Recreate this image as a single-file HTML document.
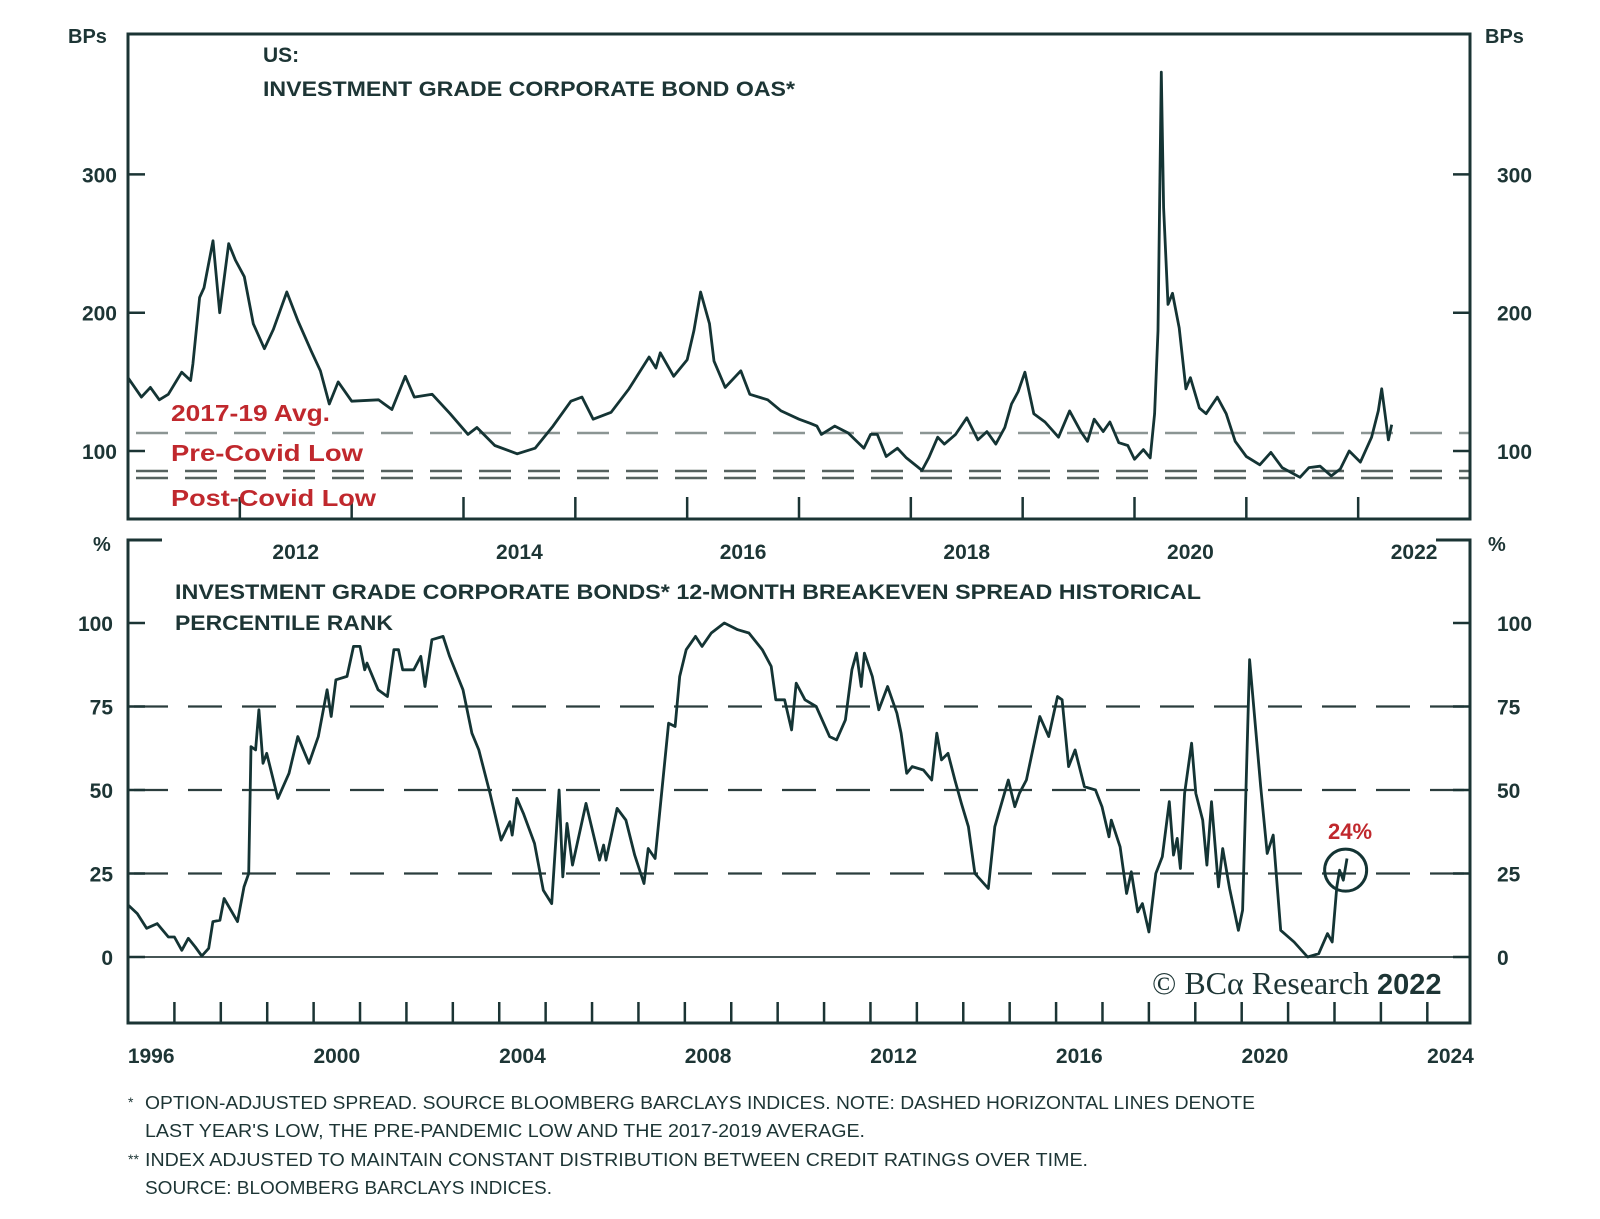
<!DOCTYPE html>
<html><head><meta charset="utf-8"><style>
html,body{margin:0;padding:0;background:#fff;}
svg{display:block;}
text{font-family:"Liberation Sans",sans-serif;fill:#1d3535;}
</style></head><body>
<svg id="chart" width="1600" height="1219" viewBox="0 0 1600 1219" xmlns="http://www.w3.org/2000/svg">
<g id="topPanel"></g>
<g id="botPanel"></g>
<g id="txt">
<text x="263" y="62" font-size="21" font-weight="bold">US:</text>
<text x="263" y="96" font-size="21" font-weight="bold" textLength="532" lengthAdjust="spacingAndGlyphs">INVESTMENT GRADE CORPORATE BOND OAS*</text>
<text x="175" y="599" font-size="21" font-weight="bold" textLength="1026" lengthAdjust="spacingAndGlyphs">INVESTMENT GRADE CORPORATE BONDS* 12-MONTH BREAKEVEN SPREAD HISTORICAL</text>
<text x="175" y="630" font-size="21" font-weight="bold" textLength="218" lengthAdjust="spacingAndGlyphs">PERCENTILE RANK</text>
<text x="171" y="421" font-size="23" font-weight="bold" style="fill:#c0282d" textLength="159" lengthAdjust="spacingAndGlyphs">2017-19 Avg.</text>
<text x="171" y="461" font-size="23" font-weight="bold" style="fill:#c0282d" textLength="192" lengthAdjust="spacingAndGlyphs">Pre-Covid Low</text>
<text x="171" y="506" font-size="23" font-weight="bold" style="fill:#c0282d" textLength="205" lengthAdjust="spacingAndGlyphs">Post-Covid Low</text>
<text x="1350" y="839" font-size="22" font-weight="bold" text-anchor="middle" style="fill:#c0282d">24%</text>
<text x="1152" y="994" font-size="32" style="font-family:'Liberation Serif',serif">© BCα Research <tspan font-family="Liberation Sans" font-weight="bold" font-size="29">2022</tspan></text>
<g font-size="18">
<text x="128" y="1107" font-size="14">*</text>
<text x="145" y="1109" textLength="1110" lengthAdjust="spacingAndGlyphs">OPTION-ADJUSTED SPREAD. SOURCE BLOOMBERG BARCLAYS INDICES. NOTE: DASHED HORIZONTAL LINES DENOTE</text>
<text x="145" y="1137" textLength="720" lengthAdjust="spacingAndGlyphs">LAST YEAR'S LOW, THE PRE-PANDEMIC LOW AND THE 2017-2019 AVERAGE.</text>
<text x="128" y="1164" font-size="14">**</text>
<text x="145" y="1166" textLength="943" lengthAdjust="spacingAndGlyphs">INDEX ADJUSTED TO MAINTAIN CONSTANT DISTRIBUTION BETWEEN CREDIT RATINGS OVER TIME.</text>
<text x="145" y="1194" textLength="407" lengthAdjust="spacingAndGlyphs">SOURCE: BLOOMBERG BARCLAYS INDICES.</text>
</g>
</g>
</svg>
<script>
// ---- Top panel data (year, bps) ----
const oasYears = [2011.0,2011.12,2011.2,2011.28,2011.36,2011.48,2011.56,2011.58,2011.64,2011.68,2011.76,2011.82,2011.9,2011.96,2012.04,2012.12,2012.22,2012.3,2012.42,2012.52,2012.64,2012.72,2012.8,2012.88,2013.0,2013.24,2013.36,2013.48,2013.56,2013.72,2013.88,2014.04,2014.12,2014.28,2014.48,2014.64,2014.8,2014.96,2015.06,2015.16,2015.32,2015.48,2015.66,2015.72,2015.76,2015.88,2016.0,2016.06,2016.12,2016.2,2016.24,2016.34,2016.48,2016.56,2016.72,2016.84,2017.0,2017.1,2017.16,2017.2,2017.32,2017.44,2017.58,2017.64,2017.7,2017.78,2017.88,2017.96,2018.1,2018.16,2018.24,2018.3,2018.4,2018.5,2018.6,2018.68,2018.76,2018.84,2018.9,2018.96,2019.02,2019.1,2019.2,2019.32,2019.42,2019.52,2019.58,2019.64,2019.72,2019.78,2019.86,2019.94,2020.0,2020.08,2020.14,2020.18,2020.21,2020.24,2020.26,2020.3,2020.34,2020.4,2020.46,2020.5,2020.58,2020.64,2020.74,2020.82,2020.9,2021.0,2021.12,2021.22,2021.32,2021.48,2021.56,2021.66,2021.76,2021.84,2021.92,2022.02,2022.12,2022.18,2022.21,2022.24,2022.27,2022.3];
const oasValues = [153,139,146,137,141,157,151,163,211,218,252,200,250,238,226,192,174,188,215,194,172,158,134,150,136,137,130,154,139,141,127,112,117,104,98,102,118,136,139,123,128,145,168,160,171,154,166,187,215,192,165,146,158,141,137,129,123,120,118,112,118,113,102,112,112,96,102,95,86,95,110,105,112,124,108,114,105,117,134,143,157,127,121,110,129,114,107,123,114,121,106,104,94,101,95,127,187,374,276,206,214,189,145,153,131,127,139,127,107,96,90,99,88,81,88,89,82,87,100,92,110,129,145,127,108,119];
const refNames = ["2017-19 avg","pre-covid low","post-covid low"];
const refValues = [113,85.5,80.5];
const topYTicks = [100,200,300];
const topXLabels = [2012,2014,2016,2018,2020,2022];
// ---- Bottom panel data (year, percentile) ----
const pctYears = [1996.0,1996.2,1996.4,1996.63,1996.87,1997.0,1997.16,1997.3,1997.45,1997.59,1997.74,1997.83,1997.98,1998.07,1998.36,1998.5,1998.6,1998.65,1998.75,1998.82,1998.91,1998.99,1999.23,1999.47,1999.66,1999.9,2000.1,2000.29,2000.38,2000.48,2000.72,2000.86,2001.0,2001.1,2001.15,2001.39,2001.59,2001.73,2001.83,2001.92,2002.16,2002.31,2002.4,2002.55,2002.79,2002.93,2003.22,2003.41,2003.56,2003.8,2004.04,2004.23,2004.28,2004.38,2004.52,2004.76,2004.95,2005.13,2005.29,2005.37,2005.46,2005.58,2005.87,2006.16,2006.25,2006.3,2006.54,2006.73,2006.92,2007.12,2007.21,2007.36,2007.5,2007.65,2007.79,2007.89,2008.03,2008.23,2008.37,2008.57,2008.85,2009.14,2009.38,2009.67,2009.86,2009.96,2010.15,2010.3,2010.4,2010.59,2010.83,2011.12,2011.27,2011.46,2011.6,2011.7,2011.8,2011.87,2012.04,2012.18,2012.37,2012.57,2012.66,2012.78,2012.9,2013.14,2013.32,2013.43,2013.53,2013.67,2013.82,2013.96,2014.11,2014.25,2014.54,2014.68,2014.97,2015.11,2015.21,2015.36,2015.65,2015.84,2016.03,2016.13,2016.27,2016.41,2016.61,2016.85,2016.99,2017.14,2017.19,2017.38,2017.52,2017.62,2017.76,2017.86,2018.0,2018.15,2018.29,2018.44,2018.53,2018.61,2018.68,2018.77,2018.92,2019.01,2019.16,2019.25,2019.35,2019.5,2019.59,2019.74,2019.93,2020.02,2020.17,2020.41,2020.55,2020.68,2020.84,2021.13,2021.42,2021.66,2021.85,2021.95,2022.05,2022.11,2022.19,2022.27];
const pctValues = [15.6,13,8.6,10,6,6,2,5.6,3,0.3,2.6,10.6,11,17.5,10.6,21,25,63,62,74,58,61,47.5,55,66,58,66,80,72,83,84,93,93,86,88,80,78,92,92,86,86,90,81,95,96,90,80,67,62,49,35,40.5,36.5,47.5,43,34,20,16,50,24,40,27.5,46,29,33.5,29,44.5,41,30.5,22,32.5,29.5,49,70,69,84,92,96,93,97,100,98,97,92,87,77,77,68,82,77,75,66,65,71,86,91,81,91,84,74,81,73,67,55,57,56,53,67,59,61,53,46,39,25,20.5,39,53,45,49,53,72,66,78,77,57,62,51,50,45,36,41,33,19,25.5,13.5,16,7.5,25,30,46.5,30.5,35.5,26.5,49,64,49,41,27.5,46.5,21,32.5,20.5,8,14,89,51,31,36.5,8,4.5,0,1,7,4.5,21,26,23,29.5];
const botYTicks = [0,25,50,75,100];
const botDashed = [25,50,75];
const botXLabels = [1996,2000,2004,2008,2012,2016,2020,2024];

const NS="http://www.w3.org/2000/svg";
const INK="#1b3434";
function mk(parent,tag,attrs){const e=document.createElementNS(NS,tag);for(const k in attrs)e.setAttribute(k,attrs[k]);parent.appendChild(e);return e;}

// top axes
const T={l:128,r:1470,t:34,b:519,x0:2011,x1:2023};
const tx=t=>T.l+(t-T.x0)*(T.r-T.l)/(T.x1-T.x0);
const ty=v=>451-(v-100)*1.383;
const topG=document.getElementById('topPanel');
refValues.forEach((v,i)=>{
  const ln=mk(topG,'line',{x1:T.l,x2:T.r,y1:ty(v),y2:ty(v),stroke:i===0?'#8b9593':'#56625f','stroke-width':2.5,'stroke-dasharray':'32 17','stroke-dashoffset':'-8'});
  
  
});
for(let y=2012;y<=2022;y++){
  const tk=mk(topG,'line',{x1:tx(y),x2:tx(y),y1:T.b,y2:T.b-22,stroke:INK,'stroke-width':2.5});
  
  
}
topYTicks.forEach(v=>{
  [[T.l,T.l+17],[T.r-17,T.r]].forEach(p=>{const tk=mk(topG,'line',{x1:p[0],x2:p[1],y1:ty(v),y2:ty(v),stroke:INK,'stroke-width':2.5});
  
  });
  const a=mk(topG,'text',{x:117,y:ty(v)+8,'text-anchor':'end','font-size':21,'font-weight':'bold'});a.textContent=v;
  
  
  const b=mk(topG,'text',{x:1497,y:ty(v)+8,'font-size':21,'font-weight':'bold'});b.textContent=v;
  
  
});
topXLabels.forEach(y=>{const e=mk(topG,'text',{x:tx(y+0.5),y:559,'text-anchor':'middle','font-size':21,'font-weight':'bold'});e.textContent=y;
  
  });
let d='';oasYears.forEach((t,i)=>{d+=(i?'L':'M')+tx(t).toFixed(1)+' '+ty(oasValues[i]).toFixed(1);});
const l1=mk(topG,'path',{d:d,fill:'none',stroke:'#143434','stroke-width':2.8,'stroke-linejoin':'round'});


const f1=mk(topG,'rect',{x:T.l,y:T.t,width:T.r-T.l,height:T.b-T.t,fill:'none',stroke:INK,'stroke-width':3});


const u1=mk(topG,'text',{x:68,y:43,'font-size':20,'font-weight':'bold'});u1.textContent='BPs';


const u2=mk(topG,'text',{x:1485,y:43,'font-size':20,'font-weight':'bold'});u2.textContent='BPs';



// bottom axes
const B={l:128,r:1470,t:540,b:1023,x0:1996,x1:2024.92};
const bx=t=>B.l+(t-B.x0)*(B.r-B.l)/(B.x1-B.x0);
const by=v=>957-v*3.34;
const botG=document.getElementById('botPanel');
botDashed.forEach(v=>{const e=mk(botG,'line',{x1:B.l,x2:B.r,y1:by(v),y2:by(v),stroke:'#2b3d3d','stroke-width':2.2,'stroke-dasharray':'34 20','stroke-dashoffset':'-6'});
  
  });
const zl=mk(botG,'line',{x1:B.l,x2:B.r,y1:by(0),y2:by(0),stroke:'#2b3d3d','stroke-width':1.8});


for(let y=1997;y<=2024;y++){const tk=mk(botG,'line',{x1:bx(y),x2:bx(y),y1:B.b,y2:B.b-21,stroke:INK,'stroke-width':2.5});
  
  }
botYTicks.forEach(v=>{
  [[B.l,B.l+17],[B.r-17,B.r]].forEach(p=>{const tk=mk(botG,'line',{x1:p[0],x2:p[1],y1:by(v),y2:by(v),stroke:INK,'stroke-width':2.5});
  
  });
  const a=mk(botG,'text',{x:113,y:by(v)+8,'text-anchor':'end','font-size':21,'font-weight':'bold'});a.textContent=v;
  
  
  const b=mk(botG,'text',{x:1497,y:by(v)+8,'font-size':21,'font-weight':'bold'});b.textContent=v;
  
  
});
botXLabels.forEach(y=>{const e=mk(botG,'text',{x:bx(y+0.5),y:1063,'text-anchor':'middle','font-size':21,'font-weight':'bold'});e.textContent=y;
  
  });
let d2='';pctYears.forEach((t,i)=>{d2+=(i?'L':'M')+bx(t).toFixed(1)+' '+by(pctValues[i]).toFixed(1);});
const l2=mk(botG,'path',{d:d2,fill:'none',stroke:'#143434','stroke-width':2.8,'stroke-linejoin':'round'});


const fr=mk(botG,'path',{d:`M${B.l+34} ${B.t}H${B.l}V${B.b}H${B.r}V${B.t}H${B.r-34}`,fill:'none',stroke:INK,'stroke-width':3});


const lastT=pctYears[pctYears.length-1]-0.03, lastV=pctValues[pctValues.length-1]-3.5;
const cc=mk(botG,'circle',{cx:bx(lastT),cy:by(lastV),r:21,fill:'none',stroke:'#143434','stroke-width':3});


const p1=mk(botG,'text',{x:93,y:551,'font-size':20,'font-weight':'bold'});p1.textContent='%';


const p2=mk(botG,'text',{x:1488,y:551,'font-size':20,'font-weight':'bold'});p2.textContent='%';


</script>
</body></html>
